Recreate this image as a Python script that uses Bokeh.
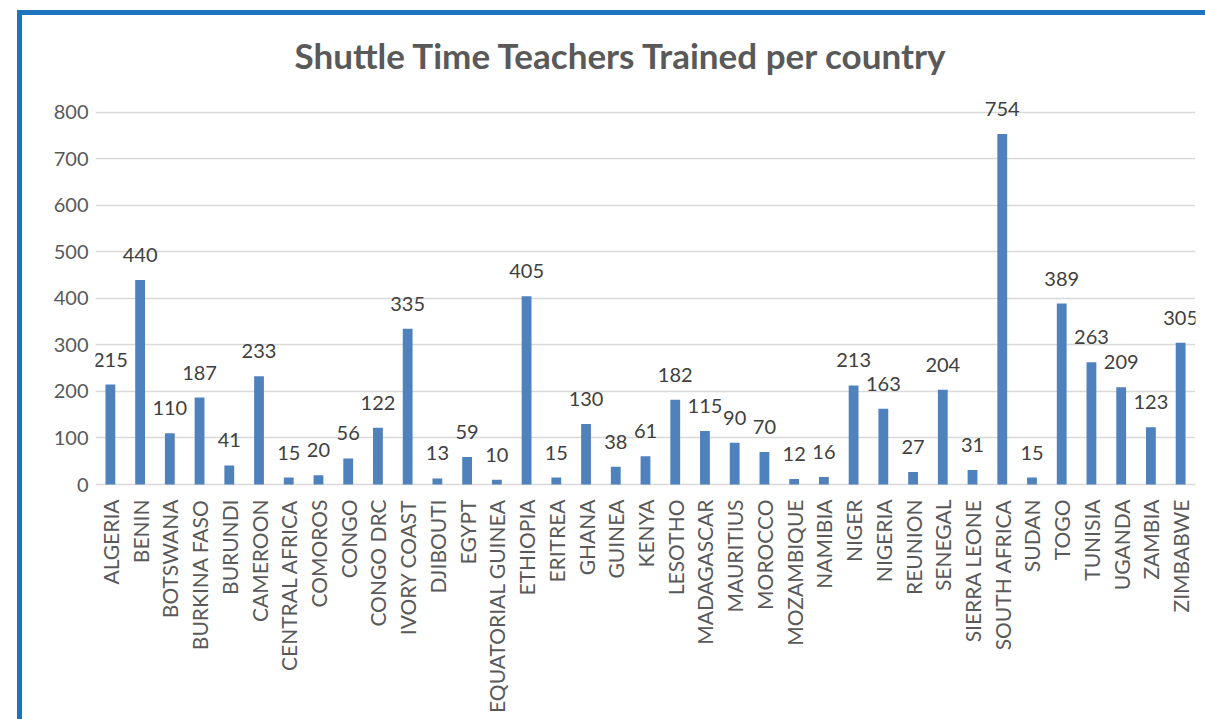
import math
from bokeh.plotting import figure
from bokeh.models import FixedTicker, Spacer, ColumnDataSource
from bokeh.layouts import row, column
from bokeh.core.properties import value
from bokeh.embed import file_html
from bokeh.resources import INLINE

countries = [
    "ALGERIA", "BENIN", "BOTSWANA", "BURKINA FASO", "BURUNDI", "CAMEROON",
    "CENTRAL AFRICA", "COMOROS", "CONGO", "CONGO DRC", "IVORY COAST",
    "DJIBOUTI", "EGYPT", "EQUATORIAL GUINEA", "ETHIOPIA", "ERITREA", "GHANA",
    "GUINEA", "KENYA", "LESOTHO", "MADAGASCAR", "MAURITIUS", "MOROCCO",
    "MOZAMBIQUE", "NAMIBIA", "NIGER", "NIGERIA", "REUNION", "SENEGAL",
    "SIERRA LEONE", "SOUTH AFRICA", "SUDAN", "TOGO", "TUNISIA", "UGANDA",
    "ZAMBIA", "ZIMBABWE",
]
teachers = [
    215, 440, 110, 187, 41, 233, 15, 20, 56, 122, 335, 13, 59, 10, 405, 15,
    130, 38, 61, 182, 115, 90, 70, 12, 16, 213, 163, 27, 204, 31, 754, 15,
    389, 263, 209, 123, 305,
]
y_ticks = [0, 100, 200, 300, 400, 500, 600, 700, 800]
title_text = "Shuttle Time Teachers Trained per country"

FONT = "Lato"
BLUE_BORDER = "#1C75BC"
BAR = "#4F81BD"
AXIS_TXT = "#595959"

source = ColumnDataSource(dict(
    country=countries,
    value=teachers,
    label=[str(v) for v in teachers],
))

p = figure(
    x_range=countries, y_range=(-4.3, 847.3),
    width=1183, height=704,
    output_backend="svg", toolbar_location=None,
    min_border_left=73, min_border_right=10,
    min_border_top=75, min_border_bottom=233,
)
p.outline_line_color = None
p.background_fill_color = "white"
p.border_fill_color = "white"

p.vbar(x="country", top="value", width=0.33, source=source,
       fill_color=BAR, line_color=None)
p.text(x="country", y="value", text="label", source=source,
       y_offset=-25, text_align="center", text_baseline="alphabetic",
       text_font=value(FONT), text_font_size="20px", text_color="#404040")

ticker = FixedTicker(ticks=y_ticks)
p.yaxis.ticker = ticker
p.ygrid.ticker = ticker
p.ygrid.grid_line_color = "#d9d9d9"
p.ygrid.grid_line_width = 1.6
p.xgrid.grid_line_color = None

p.yaxis.axis_line_color = None
p.yaxis.major_tick_line_color = None
p.yaxis.minor_tick_line_color = None
p.yaxis.major_tick_out = 0
p.yaxis.major_tick_in = 0
p.yaxis.minor_tick_out = 0
p.yaxis.major_label_standoff = 7
p.yaxis.major_label_text_font = FONT
p.yaxis.major_label_text_font_size = "20px"
p.yaxis.major_label_text_color = AXIS_TXT

p.xaxis.axis_line_color = None
p.xaxis.major_tick_line_color = None
p.xaxis.minor_tick_line_color = None
p.xaxis.major_tick_out = 0
p.xaxis.major_tick_in = 0
p.xaxis.major_label_orientation = math.pi / 2
p.xaxis.major_label_standoff = 13
p.xaxis.major_label_text_font = FONT
p.xaxis.major_label_text_font_size = "21px"
p.xaxis.major_label_text_color = AXIS_TXT

p.title.text = title_text
p.title.align = "left"
p.title.offset = 199
p.title.text_font = FONT
p.title.text_font_style = "bold"
p.title.text_font_size = "35px"
p.title.text_color = AXIS_TXT
p.title.standoff = 30

blue = {"background-color": BLUE_BORDER}
panel = row(
    Spacer(width=17, height=709),
    Spacer(width=5, height=709, styles=blue),
    column(Spacer(width=1183, height=5, styles=blue), p, spacing=0),
    spacing=0,
)
layout = column(Spacer(width=1205, height=10), panel, spacing=0)

html = file_html(layout, INLINE)
html = html.replace("<body>", '<body style="margin:0;padding:0;background-color:#c8c9cb;">', 1)
open("out.html", "w").write(html)
